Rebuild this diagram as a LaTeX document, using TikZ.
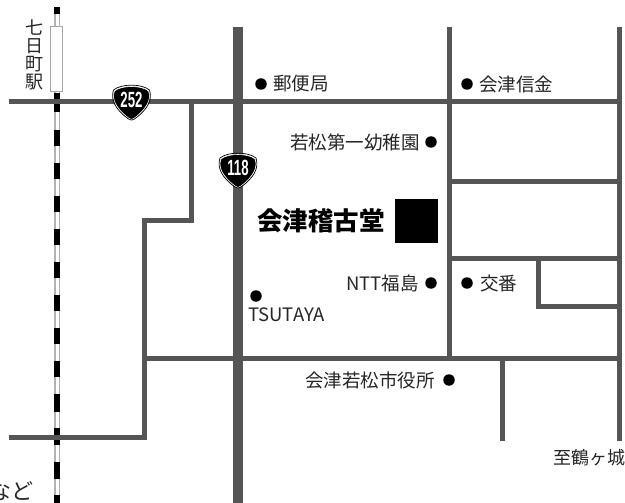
\documentclass[tikz,border=0pt]{standalone}
\usepackage{fontspec}
\setmainfont{Noto Sans CJK JP}
\newfontfamily\latinfont{Liberation Sans}
\definecolor{road}{HTML}{555555}
\tikzset{
 x=1pt,y=-1pt,
 road/.style={draw=road,line width=5pt,line cap=butt,line join=miter},
 bigroad/.style={draw=road,line width=10pt},
 rail/.style={draw=black,line width=5.5pt},
 railbase/.style={draw=lightgray!80!gray,line width=5.5pt},
 spot/.style={circle,fill=black,inner sep=0pt,minimum size=11.5pt},
 lab/.style={font=\fontsize{18.5}{18.5}\selectfont,text=black!85,inner sep=0pt},
 shield/.style={fill=black,draw=white,line width=.6pt},
 shieldtxt/.style={text=white,font=\latinfont\bfseries\fontsize{22}{22}\selectfont,inner sep=0pt},
}
\newcommand{\shieldpath}[2]{%
 \path[shield] (#1-17,#2-11) .. controls (#1-10,#2-17) and (#1+10,#2-17) .. (#1+17,#2-11)
  .. controls (#1+20,#2-3) and (#1+16,#2+6) .. (#1+3,#2+16)
  .. controls (#1+1,#2+18) and (#1-1,#2+18) .. (#1-3,#2+16)
  .. controls (#1-16,#2+6) and (#1-20,#2-3) .. (#1-17,#2-11) -- cycle;
 \path[draw=black,line width=.7pt] (#1-18,#2-12) .. controls (#1-10,#2-18.5) and (#1+10,#2-18.5) .. (#1+18,#2-12)
  .. controls (#1+21,#2-3) and (#1+17,#2+7) .. (#1+3,#2+17)
  .. controls (#1+1,#2+18.5) and (#1-1,#2+18.5) .. (#1-3,#2+17)
  .. controls (#1-17,#2+7) and (#1-21,#2-3) .. (#1-18,#2-12) -- cycle;}
\begin{document}
\begin{tikzpicture}
\useasboundingbox[fill=white] (0,0) rectangle (625,503);
% railway
\coordinate (rt) at (57,7); \coordinate (rb) at (57,503);
\draw[railbase] (rt) -- (rb);
\draw[draw=white,line width=3pt] (rt) -- (rb);
\foreach \a/\b in {7/14,93/112,130/146,163/179,196/212,229/245,262/278,295/311,328/344,361/377,394/412,428/445,462/479,495/503}
  \draw[rail] (57,\a) -- (57,\b);
\node[draw=gray!70,fill=white,line width=1pt,minimum width=12pt,minimum height=65pt,inner sep=0pt] (station) at (56.5,59) {};
% roads
\draw[road] (9,102) -- (619,102);
\draw[road] (191,102) -- (191,220) -- (144,220) -- (144,437) -- (9,437);
\draw[road] (144,358) -- (619,358);
\draw[road] (449,27) -- (449,358);
\draw[road] (619,27) -- (619,441);
\draw[road] (449,182) -- (619,182);
\draw[road] (449,258) -- (619,258);
\draw[road] (538,258) -- (538,306) -- (619,306);
\draw[road] (502,358) -- (502,441);
\draw[bigroad] (238,27) -- (238,503);
% shields
\shieldpath{131.5}{102}
\node[shieldtxt,xscale=.6] (r252) at (131.5,100) {252};
\shieldpath{238}{170}
\node[shieldtxt,xscale=.6] (r118) at (238,167.5) {118};
% building
\node[fill=black,minimum width=43pt,minimum height=43pt,inner sep=0pt] (bldg) at (416,221) {};
\node[font=\bfseries\fontsize{25.5}{25.5}\selectfont,inner sep=0pt,anchor=east] (aizu) at (385,221) {会津稽古堂};
% station label
\node[lab,align=center,font=\fontsize{18}{18}\selectfont,anchor=north] (stlab) at (35,19) {七\\日\\町\\駅};
% spots and labels
\node[spot] (s1) at (261,84) {};
\node[lab,anchor=west] (l1) at (273,84) {郵便局};
\node[spot] (s2) at (467,84) {};
\node[lab,anchor=west] (l2) at (479,84) {会津信金};
\node[spot] (s3) at (431,142) {};
\node[lab,anchor=east] (l3) at (420,142) {若松第一幼稚園};
\node[spot] (s4) at (431,283) {};
\node[lab,anchor=east] (l4) at (419,283) {NTT福島};
\node[spot] (s5) at (467,283) {};
\node[lab,anchor=west] (l5) at (480,283) {交番};
\node[spot] (s6) at (256,296) {};
\node[lab,anchor=west] (l6) at (248,315) {TSUTAYA};
\node[spot] (s7) at (449,380) {};
\node[lab,anchor=east] (l7) at (435,380) {会津若松市役所};
\node[lab,anchor=east,font=\fontsize{18}{18}\selectfont] (l8) at (626,458) {至鶴ヶ城};
\node[lab,anchor=east,font=\fontsize{22}{22}\selectfont] (l9) at (34,491) {など};
\end{tikzpicture}
\end{document}
